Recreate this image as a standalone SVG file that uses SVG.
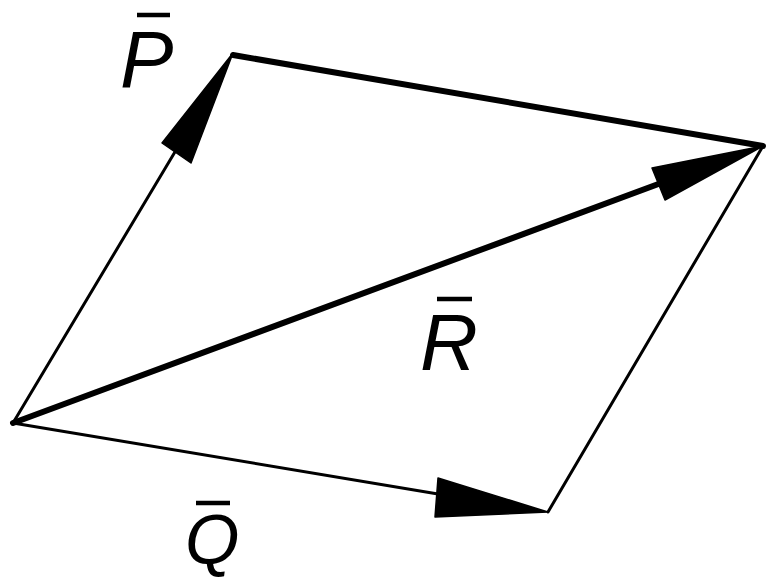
<svg xmlns="http://www.w3.org/2000/svg" width="767" height="584" viewBox="0 0 767 584">
<style>
.thin{stroke:#000;stroke-width:3;fill:none;stroke-linecap:round}
.thick{stroke:#000;stroke-width:6;fill:none;stroke-linecap:round;stroke-linejoin:miter}
.head{fill:#000;stroke:#000;stroke-width:1.5;stroke-linejoin:round}
.lbl{font-family:"Liberation Sans",Arial,sans-serif;font-style:italic;font-size:80px;fill:#000}
.bar{stroke:#000;stroke-width:4.5}
</style>
<rect width="767" height="584" fill="#fff"/>
<g id="connectors">
<line class="thin" x1="13" y1="423" x2="200" y2="110"/>
<line class="thin" x1="13" y1="423" x2="450" y2="496"/>
<line class="thin" x1="763" y1="146" x2="548" y2="512"/>
<line class="thick" x1="13" y1="423" x2="680" y2="176"/>
<path class="thick" d="M233 55 L763 146"/>
<polygon class="head" points="233,53 162,143 191,163"/>
<polygon class="head" points="763,146 652,168 665,200"/>
<polygon class="head" points="548,512 438,478 435,517"/>
</g>
<g id="label-P">
<line class="bar" x1="137" y1="15" x2="170" y2="15"/>
<text class="lbl" x="120" y="87">P</text>
</g>
<g id="label-R">
<line class="bar" x1="437" y1="299" x2="472" y2="299"/>
<text class="lbl" x="420" y="370">R</text>
</g>
<g id="label-Q">
<line class="bar" x1="196" y1="503" x2="230" y2="503"/>
<text class="lbl" x="185" y="564" style="font-size:70px">Q</text>
</g>
</svg>
